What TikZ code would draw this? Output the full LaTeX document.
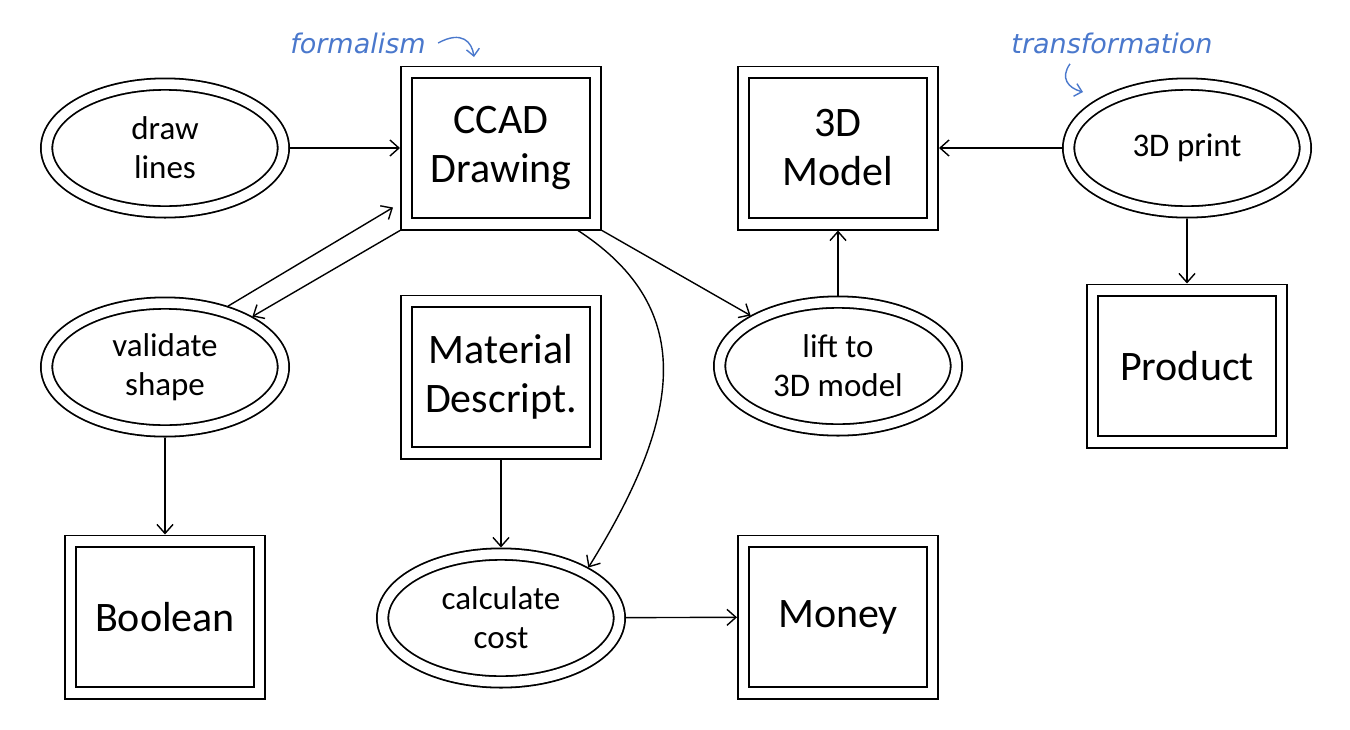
\documentclass[tikz,border=0pt]{standalone}
\usepackage{fontspec}
\usepackage{tikz}
\usetikzlibrary{shapes.geometric, arrows.meta}
\setmainfont{Carlito}
\newfontfamily\notefont{DejaVu Sans}
\definecolor{noteblue}{HTML}{4A78CC}
\newcommand{\datumfont}{\fontsize{21}{24.5}\selectfont}
\newcommand{\taskfont}{\fontsize{16.5}{19.5}\selectfont}
\tikzset{
  datum/.style={rectangle, draw, line width=0.9pt, double=white, double distance=4.8pt,
    minimum width=94.4pt, minimum height=75.9pt, inner sep=0pt, outer sep=3.3pt,
    align=center, font=\datumfont},
  task/.style={ellipse, draw, line width=0.9pt, double=white, double distance=4.8pt,
    minimum width=118.4pt, minimum height=63.9pt, inner sep=0pt, outer sep=3.3pt,
    align=center, font=\taskfont},
  flow/.style={-{Straight Barb[length=4.5pt,width=8pt]}, line width=0.7pt},
  note/.style={text=noteblue, inner sep=0pt, font=\notefont\itshape\fontsize{13.5}{16}\selectfont},
  notearrow/.style={-{Straight Barb[length=3.5pt,width=6.5pt]}, draw=noteblue, line width=0.7pt},
}
\begin{document}
\begin{tikzpicture}[x=0.5pt, y=-0.5pt]
\useasboundingbox (0,0) rectangle (1350,729);
%Nodes
\draw (165,148) node [task] (drawlines) {draw\\lines};
\draw (501,148) node [datum] (ccad) {CCAD\\Drawing};
\draw (838,148) node [datum] (model) {3D\\Model};
\draw (1187,148) node [task] (print) {3D print};
\draw (165,367) node [task] (validate) {validate\\shape};
\draw (501,377) node [datum] (material) {Material\\Descript.};
\draw (838,366) node [task] (lift) {lift to\\3D model};
\draw (1187,366) node [datum] (product) {Product};
\draw (165,617) node [datum] (boolean) {Boolean};
\draw (501,618) node [task] (cost) {calculate\\cost};
\draw (838,617) node [datum] (money) {Money};
%Text
\draw (358,43) node [note] (formalism) {formalism};
\draw (1112,43) node [note] (transformation) {transformation};
%Arrows
\draw [flow] (drawlines) -- (ccad);
\draw [flow] (validate.44) -- ([shift={(-3.5pt,11.5pt)}]ccad.south west);
\draw [flow] (ccad.south west) -- (validate.30);
\draw [flow] (ccad.south east) -- (lift.150);
\draw [flow] ([xshift=-12pt]ccad.south east) .. controls (700,310) and (680,420) .. (cost.30);
\draw [flow] (lift) -- (model);
\draw [flow] (print) -- (model);
\draw [flow] (print) -- (product);
\draw [flow] (validate) -- (boolean);
\draw [flow] (material) -- (cost);
\draw [flow] (cost) -- (money);
\draw [notearrow] ([xshift=6pt]formalism.east) .. controls (462,30) and (472,42) .. (474,57);
\draw [notearrow] ([shift={(-21pt,-5pt)}]transformation.south) .. controls (1060,78) and (1068,88) .. (1083,92);
\end{tikzpicture}
\end{document}
